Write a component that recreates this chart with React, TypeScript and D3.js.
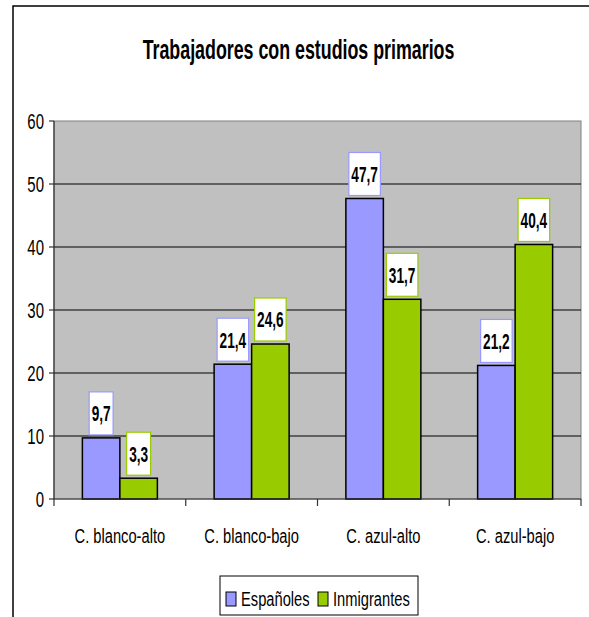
import React from "react";
import * as d3 from "d3";

const categories = ["C. blanco-alto", "C. blanco-bajo", "C. azul-alto", "C. azul-bajo"];
const seriesNames = ["Españoles", "Inmigrantes"];
const espanoles = [9.7, 21.4, 47.7, 21.2];
const inmigrantes = [3.3, 24.6, 31.7, 40.4];
const yTicks = [0, 10, 20, 30, 40, 50, 60];
const colors = ["#9999FF", "#99CC00"];
const title = "Trabajadores con estudios primarios";

const W = 589;
const H = 617;
const FONT = "'Liberation Sans', Arial, sans-serif";

const plot = { left: 54, right: 581, top: 121, bottom: 499 };

type TxtProps = {
  x: number;
  y: number;
  size: number;
  sx: number;
  anchor?: "start" | "middle" | "end";
  bold?: boolean;
  children: React.ReactNode;
};

function Txt({ x, y, size, sx, anchor = "start", bold = false, children }: TxtProps) {
  return (
    <text
      transform={`translate(${x},${y}) scale(${sx},1)`}
      fontFamily={FONT}
      fontSize={size}
      fontWeight={bold ? "bold" : "normal"}
      textAnchor={anchor}
      fill="#000"
    >
      {children}
    </text>
  );
}

const fmt = (v: number) => String(v).replace(".", ",");

// approximate width of a bold numeric label (digits + comma)
const labelWidth = (s: string, size: number, sx: number) => {
  let em = 0;
  for (const ch of s) em += ch === "," ? 0.278 : 0.556;
  return em * size * sx;
};

export default function App() {
  const y = d3.scaleLinear().domain([0, 60]).range([plot.bottom, plot.top]);
  const x = d3.scaleBand<string>().domain(categories).range([plot.left, plot.right]).paddingInner(0).paddingOuter(0);
  const xs = d3
    .scaleBand<string>()
    .domain(seriesNames)
    .range([0, x.bandwidth()])
    .paddingInner(0)
    .paddingOuter(0.757);

  const data = [espanoles, inmigrantes];

  const labelSize = 22;
  const labelSx = 0.62;
  const boxH = 43;

  return (
    <svg
      width={W}
      height={H}
      style={{ position: "absolute", left: 0, top: 0, background: "#fff", display: "block" }}
    >
      {/* outer frame: top and left edges */}
      <path d={`M13,${H} V6 H${W}`} fill="none" stroke="#000" strokeWidth={1.5} />

      <Txt x={298.5} y={59} size={27} sx={0.66} anchor="middle" bold>
        {title}
      </Txt>

      {/* plot area */}
      <rect
        x={plot.left}
        y={plot.top}
        width={plot.right - plot.left}
        height={plot.bottom - plot.top}
        fill="#C0C0C0"
        stroke="#808080"
        strokeWidth={1}
      />

      {/* gridlines */}
      {yTicks
        .filter((t) => t > 0 && t < 60)
        .map((t) => (
          <line
            key={`g${t}`}
            x1={plot.left}
            x2={plot.right}
            y1={y(t)}
            y2={y(t)}
            stroke="#000"
            strokeWidth={1}
          />
        ))}

      {/* bars */}
      {seriesNames.map((s, si) =>
        categories.map((c, ci) => {
          const v = data[si][ci];
          const bx = (x(c) as number) + (xs(s) as number);
          return (
            <rect
              key={`b${si}-${ci}`}
              x={bx}
              y={y(v)}
              width={xs.bandwidth()}
              height={y(0) - y(v)}
              fill={colors[si]}
              stroke="#000"
              strokeWidth={1.5}
            />
          );
        })
      )}

      {/* axes */}
      <line x1={plot.left} x2={plot.left} y1={plot.top} y2={plot.bottom} stroke="#333" strokeWidth={1.2} />
      <line x1={plot.left} x2={plot.right} y1={plot.bottom} y2={plot.bottom} stroke="#333" strokeWidth={1.2} />
      {yTicks.map((t) => (
        <g key={`yt${t}`}>
          <line x1={plot.left - 5} x2={plot.left} y1={y(t)} y2={y(t)} stroke="#333" strokeWidth={1.2} />
          <Txt x={44} y={y(t) + 8} size={22} sx={0.68} anchor="end">
            {t}
          </Txt>
        </g>
      ))}
      {[...categories.map((c) => x(c) as number), plot.right].map((tx, i) => (
        <line key={`xt${i}`} x1={tx} x2={tx} y1={plot.bottom} y2={plot.bottom + 7} stroke="#333" strokeWidth={1.2} />
      ))}
      {categories.map((c) => (
        <Txt key={`xl${c}`} x={(x(c) as number) + x.bandwidth() / 2} y={543} size={21} sx={0.7} anchor="middle">
          {c}
        </Txt>
      ))}

      {/* value labels */}
      {seriesNames.map((s, si) =>
        categories.map((c, ci) => {
          const v = data[si][ci];
          const cx = (x(c) as number) + (xs(s) as number) + xs.bandwidth() / 2;
          const txt = fmt(v);
          const bw = labelWidth(txt, labelSize, labelSx) + 5;
          const bottom = y(v) - 3;
          return (
            <g key={`l${si}-${ci}`}>
              <rect
                x={cx - bw / 2}
                y={bottom - boxH}
                width={bw}
                height={boxH}
                fill="#fff"
                stroke={colors[si]}
                strokeWidth={1.2}
              />
              <Txt x={cx} y={bottom - boxH / 2 + 7.9} size={labelSize} sx={labelSx} anchor="middle" bold>
                {txt}
              </Txt>
            </g>
          );
        })
      )}

      {/* legend */}
      <rect x={220} y={576} width={198} height={39} fill="#fff" stroke="#000" strokeWidth={1} />
      {seriesNames.map((s, si) => {
        const lx = si === 0 ? 226 : 318;
        return (
          <g key={`lg${s}`}>
            <rect x={lx} y={592} width={10} height={14} fill={colors[si]} stroke="#000" strokeWidth={1} />
            <Txt x={lx + 15} y={606} size={21} sx={0.7}>
              {s}
            </Txt>
          </g>
        );
      })}
    </svg>
  );
}
